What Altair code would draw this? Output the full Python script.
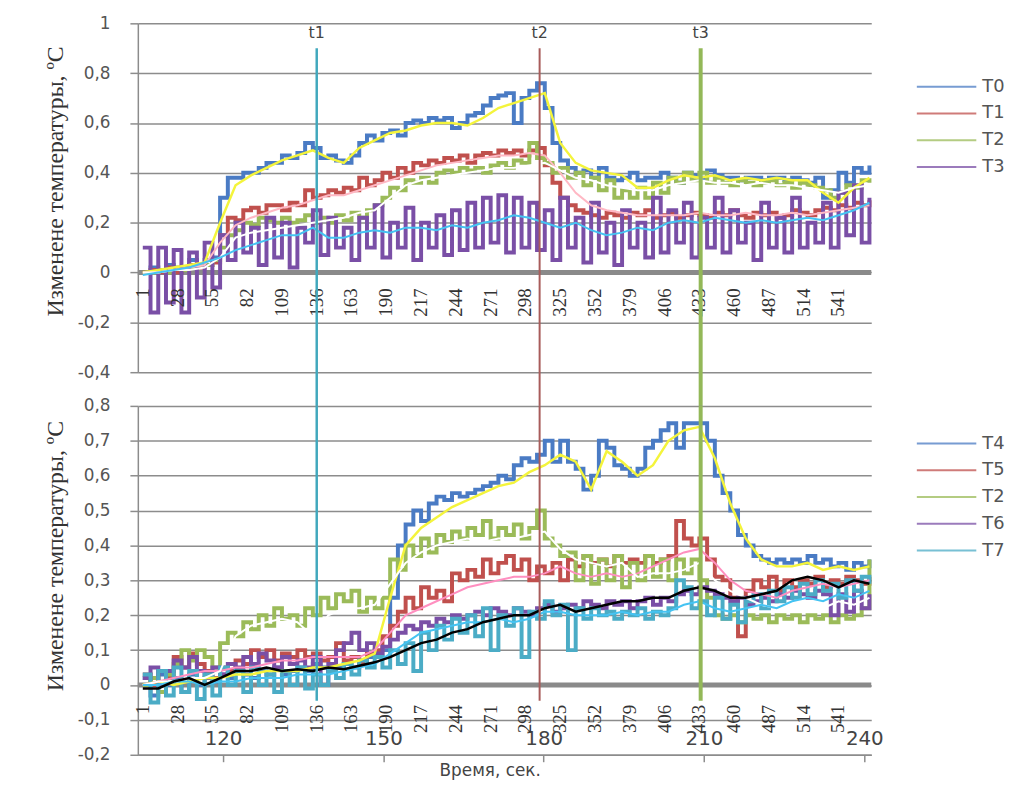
import altair as alt
import pandas as pd

# ---------------- data ----------------
RAW_STEP = 6      # samples between raw readings kept
SM_STEP = 12      # samples between smoothed readings kept
S_DOMAIN = [-2.85, 566.4]     # sample-index range of the plot area
T_DOMAIN = [104.05, 241.3]    # time range (s) of the plot area

idx_labels = [1, 28, 55, 82, 109, 136, 163, 190, 217, 244, 271, 298, 325,
              352, 379, 406, 433, 460, 487, 514, 541]
time_ticks = [120, 150, 180, 210, 240]
top_ticks = [-0.4, -0.2, 0, 0.2, 0.4, 0.6, 0.8, 1]
bot_ticks = [-0.2, -0.1, 0, 0.1, 0.2, 0.3, 0.4, 0.5, 0.6, 0.7, 0.8]

t_names = ["t1", "t2", "t3"]
t_pos = [136, 309, 434]
t_colors = ["#41a8bd", "#a85c5a", "#93b858"]
t_widths = [2.5, 2, 4]

# top panel raw series
T0 = [0.0, 0.02, 0.0, 0.03, 0.0, 0.02, 0.05, 0.03, 0.05, 0.06,
      0.3, 0.38, 0.38, 0.40, 0.40, 0.42, 0.44, 0.44, 0.47, 0.46,
      0.48, 0.52, 0.50, 0.46, 0.47, 0.45, 0.44, 0.47, 0.52, 0.55,
      0.53, 0.56, 0.57, 0.55, 0.60, 0.61, 0.60, 0.62, 0.61, 0.62,
      0.58, 0.60, 0.63, 0.64, 0.67, 0.70, 0.71, 0.72, 0.60, 0.70,
      0.73, 0.76, 0.66, 0.52, 0.45, 0.42, 0.40, 0.41, 0.38, 0.42,
      0.38, 0.37, 0.38, 0.40, 0.37, 0.38, 0.38, 0.40, 0.38, 0.36,
      0.40, 0.39, 0.38, 0.41, 0.39, 0.38, 0.38, 0.37, 0.38, 0.38,
      0.37, 0.38, 0.38, 0.37, 0.38, 0.37, 0.36, 0.38, 0.30, 0.33,
      0.40, 0.36, 0.42, 0.40, 0.43]
T1 = [0.0, 0.01, 0.0, 0.02, 0.0, 0.01, 0.03, 0.02, 0.03, 0.04,
      0.15, 0.22, 0.21, 0.25, 0.26, 0.24, 0.27, 0.27, 0.25, 0.28,
      0.27, 0.33, 0.30, 0.31, 0.33, 0.32, 0.34, 0.33, 0.38, 0.35,
      0.37, 0.40, 0.38, 0.42, 0.40, 0.44, 0.43, 0.45, 0.44, 0.46,
      0.45, 0.47, 0.44, 0.47, 0.48, 0.47, 0.49, 0.48, 0.49, 0.47,
      0.49, 0.50, 0.43, 0.36, 0.30, 0.27, 0.25, 0.24, 0.23, 0.22,
      0.24, 0.23, 0.22, 0.24, 0.23, 0.25, 0.22, 0.23, 0.24, 0.22,
      0.23, 0.24, 0.23, 0.22, 0.24, 0.23, 0.25, 0.23, 0.22, 0.24,
      0.23, 0.24, 0.22, 0.23, 0.25, 0.24, 0.23, 0.25, 0.26, 0.25,
      0.27, 0.26, 0.28, 0.27, 0.29]
T2a = [0.0, 0.0, 0.01, 0.0, 0.02, 0.01, 0.02, 0.03, 0.03, 0.05,
       0.10, 0.15, 0.17, 0.20, 0.19, 0.22, 0.21, 0.20, 0.22, 0.20,
       0.21, 0.23, 0.20, 0.22, 0.20, 0.23, 0.21, 0.24, 0.22, 0.25,
       0.27, 0.30, 0.34, 0.33, 0.37, 0.36, 0.38, 0.36, 0.40, 0.41,
       0.40, 0.42, 0.41, 0.42, 0.40, 0.43, 0.44, 0.42, 0.45, 0.44,
       0.52, 0.46, 0.44, 0.40, 0.42, 0.38, 0.40, 0.35, 0.38, 0.33,
       0.37, 0.30, 0.33, 0.30, 0.34, 0.30, 0.36, 0.32, 0.38, 0.36,
       0.40, 0.37, 0.40, 0.36, 0.38, 0.36, 0.35, 0.37, 0.36, 0.35,
       0.36, 0.37, 0.35, 0.36, 0.34, 0.36, 0.35, 0.34, 0.33, 0.30,
       0.32, 0.35, 0.34, 0.37, 0.36]
T3 = [0.10, -0.16, 0.10, -0.12, 0.09, -0.16, 0.08, -0.10, 0.12, -0.06,
      0.15, 0.05, 0.20, 0.08, 0.18, 0.03, 0.22, 0.06, 0.20, 0.02,
      0.18, 0.12, 0.25, 0.07, 0.22, 0.10, 0.18, 0.05, 0.22, 0.10,
      0.27, 0.06, 0.20, 0.10, 0.26, 0.05, 0.20, 0.10, 0.23, 0.07,
      0.25, 0.09, 0.28, 0.10, 0.30, 0.12, 0.31, 0.08, 0.30, 0.10,
      0.28, 0.09, 0.25, 0.05, 0.30, 0.10, 0.22, 0.04, 0.28, 0.08,
      0.20, 0.03, 0.25, 0.10, 0.20, 0.06, 0.30, 0.08, 0.25, 0.12,
      0.28, 0.06, 0.22, 0.10, 0.30, 0.08, 0.25, 0.12, 0.20, 0.05,
      0.28, 0.10, 0.22, 0.08, 0.30, 0.10, 0.20, 0.12, 0.28, 0.10,
      0.32, 0.15, 0.35, 0.12, 0.30]

# top panel smoothed series
S0 = [0.0, 0.01, 0.02, 0.03, 0.04, 0.2, 0.35, 0.39, 0.42, 0.45,
      0.47, 0.49, 0.46, 0.44, 0.50, 0.53, 0.56, 0.57, 0.59, 0.60,
      0.60, 0.59, 0.62, 0.66, 0.68, 0.70, 0.72, 0.52, 0.44, 0.41,
      0.40, 0.39, 0.34, 0.34, 0.37, 0.39, 0.38, 0.39, 0.37, 0.38,
      0.37, 0.38, 0.37, 0.37, 0.32, 0.28, 0.34, 0.38]
S1 = [0.0, 0.0, 0.01, 0.02, 0.03, 0.12, 0.19, 0.22, 0.24, 0.26,
      0.27, 0.29, 0.31, 0.31, 0.33, 0.35, 0.37, 0.39, 0.41, 0.43,
      0.44, 0.45, 0.46, 0.47, 0.47, 0.48, 0.47, 0.40, 0.32, 0.27,
      0.25, 0.24, 0.23, 0.23, 0.23, 0.23, 0.24, 0.23, 0.23, 0.24,
      0.23, 0.23, 0.24, 0.23, 0.24, 0.25, 0.26, 0.27]
S2 = [0.0, 0.0, 0.01, 0.01, 0.02, 0.06, 0.14, 0.16, 0.17, 0.18,
      0.19, 0.20, 0.21, 0.22, 0.24, 0.25, 0.30, 0.35, 0.37, 0.38,
      0.39, 0.40, 0.41, 0.42, 0.42, 0.43, 0.44, 0.41, 0.38, 0.37,
      0.35, 0.34, 0.33, 0.33, 0.35, 0.36, 0.37, 0.36, 0.36, 0.35,
      0.36, 0.35, 0.35, 0.34, 0.33, 0.32, 0.34, 0.35]
S3 = [-0.01, 0.0, 0.01, 0.02, 0.04, 0.06, 0.09, 0.11, 0.13, 0.15,
      0.15, 0.18, 0.14, 0.14, 0.16, 0.17, 0.16, 0.18, 0.18, 0.17,
      0.19, 0.18, 0.20, 0.21, 0.23, 0.22, 0.20, 0.18, 0.20, 0.17,
      0.15, 0.16, 0.18, 0.17, 0.20, 0.21, 0.20, 0.22, 0.21, 0.20,
      0.21, 0.20, 0.21, 0.22, 0.21, 0.23, 0.25, 0.28]

# bottom panel raw series
T4 = [0.02, -0.03, 0.03, 0.00, 0.02, -0.02, 0.03, 0.00, 0.02, 0.01,
      0.03, 0.02, 0.04, 0.03, 0.02, 0.04, 0.03, 0.05, 0.03, 0.04,
      0.05, 0.04, 0.06, 0.05, 0.04, 0.05, 0.06, 0.05, 0.07, 0.08,
      0.08, 0.10, 0.25, 0.40, 0.46, 0.50, 0.47, 0.52, 0.54, 0.53,
      0.55, 0.54, 0.55, 0.56, 0.57, 0.58, 0.60, 0.59, 0.63, 0.65,
      0.64, 0.66, 0.70, 0.64, 0.70, 0.64, 0.62, 0.56, 0.60, 0.70,
      0.68, 0.63, 0.62, 0.60, 0.62, 0.68, 0.70, 0.73, 0.75, 0.68,
      0.75, 0.75, 0.75, 0.70, 0.60, 0.55, 0.50, 0.43, 0.40, 0.37,
      0.36, 0.35, 0.36, 0.35, 0.36, 0.35, 0.37, 0.35, 0.36, 0.34,
      0.35, 0.33, 0.35, 0.34, 0.36]
T5 = [0.03, 0.00, 0.04, 0.02, 0.08, 0.05, 0.09, 0.06, 0.04, 0.02,
      0.05, 0.04, 0.07, 0.06, 0.10, 0.08, 0.10, 0.07, 0.09, 0.08,
      0.10, 0.08, 0.09, 0.07, 0.08, 0.12, 0.07, 0.08, 0.06, 0.09,
      0.10, 0.14, 0.17, 0.21, 0.25, 0.22, 0.28, 0.25, 0.27, 0.24,
      0.32, 0.30, 0.33, 0.31, 0.36, 0.32, 0.35, 0.37, 0.33, 0.36,
      0.30, 0.34, 0.32, 0.35, 0.30, 0.36, 0.34, 0.37, 0.35, 0.36,
      0.34, 0.37, 0.35, 0.36, 0.35, 0.37, 0.35, 0.36, 0.37, 0.47,
      0.42, 0.40, 0.42, 0.36, 0.31, 0.30, 0.25, 0.14, 0.27, 0.30,
      0.28, 0.31, 0.27, 0.30, 0.28, 0.30, 0.29, 0.31, 0.28, 0.30,
      0.29, 0.31, 0.30, 0.29, 0.31]
T2b = [0.00, 0.02, -0.02, 0.03, 0.06, 0.10, 0.07, 0.10, 0.08, 0.05,
       0.12, 0.15, 0.14, 0.18, 0.16, 0.20, 0.17, 0.22, 0.19, 0.20,
       0.17, 0.22, 0.20, 0.25, 0.22, 0.26, 0.24, 0.27, 0.21, 0.25,
       0.22, 0.25, 0.36, 0.33, 0.40, 0.37, 0.42, 0.38, 0.43, 0.41,
       0.44, 0.42, 0.45, 0.43, 0.47, 0.42, 0.45, 0.43, 0.46, 0.42,
       0.45, 0.50, 0.42, 0.40, 0.37, 0.38, 0.30, 0.37, 0.29, 0.36,
       0.30, 0.37, 0.28, 0.35, 0.30, 0.37, 0.31, 0.36, 0.30, 0.36,
       0.32, 0.36, 0.30, 0.25, 0.20, 0.19, 0.20, 0.18, 0.20, 0.19,
       0.20, 0.18, 0.20, 0.19, 0.20, 0.18, 0.20, 0.19, 0.20, 0.18,
       0.20, 0.19, 0.20, 0.22, 0.36]
T6 = [0.02, 0.05, 0.00, 0.04, 0.07, 0.05, 0.08, 0.04, 0.02, 0.05,
      0.03, 0.06, 0.05, 0.08, 0.06, 0.09, 0.07, 0.05, 0.08, 0.06,
      0.07, 0.05, 0.08, 0.00, 0.06, 0.10, 0.12, 0.15, 0.10, 0.12,
      0.09, 0.11, 0.13, 0.15, 0.17, 0.16, 0.18, 0.17, 0.19, 0.18,
      0.20, 0.19, 0.20, 0.21, 0.20, 0.22, 0.21, 0.20, 0.22, 0.21,
      0.20, 0.22, 0.23, 0.21, 0.22, 0.23, 0.22, 0.24, 0.23, 0.22,
      0.24, 0.23, 0.24, 0.22, 0.24, 0.25, 0.23, 0.25, 0.24, 0.26,
      0.27, 0.26, 0.28, 0.27, 0.26, 0.25, 0.24, 0.25, 0.23, 0.24,
      0.25, 0.24, 0.26, 0.25, 0.27, 0.26, 0.25, 0.27, 0.26, 0.20,
      0.26, 0.21, 0.27, 0.22, 0.26]
T7 = [0.03, -0.05, 0.04, -0.03, 0.05, -0.02, 0.04, -0.04, 0.03, -0.03,
      0.05, 0.00, 0.04, -0.02, 0.05, 0.00, 0.03, -0.02, 0.04, 0.00,
      0.05, -0.01, 0.03, 0.00, 0.04, 0.02, 0.06, 0.03, 0.07, 0.05,
      0.08, 0.05, 0.10, 0.06, 0.12, 0.04, 0.15, 0.10, 0.17, 0.13,
      0.19, 0.15, 0.20, 0.14, 0.22, 0.10, 0.20, 0.17, 0.22, 0.08,
      0.21, 0.19, 0.24, 0.20, 0.23, 0.10, 0.22, 0.19, 0.22, 0.20,
      0.21, 0.19, 0.21, 0.20, 0.22, 0.19, 0.21, 0.20, 0.22, 0.30,
      0.28, 0.22, 0.24, 0.20, 0.25, 0.19, 0.23, 0.18, 0.24, 0.26,
      0.22, 0.27, 0.24, 0.28, 0.25, 0.29, 0.26, 0.30, 0.27, 0.29,
      0.25, 0.30, 0.27, 0.31, 0.29]

# bottom panel smoothed series
S4 = [0.0, 0.01, 0.0, 0.01, 0.02, 0.02, 0.03, 0.03, 0.04, 0.04,
      0.04, 0.05, 0.05, 0.06, 0.07, 0.09, 0.25, 0.40, 0.45, 0.48,
      0.51, 0.53, 0.55, 0.57, 0.58, 0.61, 0.63, 0.66, 0.64, 0.56,
      0.67, 0.64, 0.60, 0.63, 0.70, 0.73, 0.74, 0.65, 0.52, 0.42,
      0.36, 0.34, 0.34, 0.35, 0.33, 0.34, 0.33, 0.34]
S5 = [0.0, 0.01, 0.02, 0.03, 0.04, 0.04, 0.05, 0.05, 0.06, 0.07,
      0.07, 0.08, 0.08, 0.08, 0.08, 0.10, 0.15, 0.20, 0.22, 0.24,
      0.26, 0.28, 0.29, 0.30, 0.31, 0.31, 0.32, 0.34, 0.32, 0.31,
      0.32, 0.31, 0.32, 0.34, 0.36, 0.38, 0.39, 0.35, 0.30, 0.27,
      0.26, 0.25, 0.27, 0.28, 0.29, 0.28, 0.29, 0.30]
S2b = [0.0, 0.01, 0.01, 0.02, 0.02, 0.04, 0.14, 0.17, 0.18, 0.19,
       0.18, 0.14, 0.20, 0.22, 0.22, 0.23, 0.29, 0.35, 0.38, 0.40,
       0.41, 0.42, 0.41, 0.42, 0.42, 0.43, 0.44, 0.39, 0.36, 0.35,
       0.34, 0.35, 0.31, 0.32, 0.32, 0.33, 0.35, 0.30, 0.27, 0.25,
       0.23, 0.22, 0.22, 0.23, 0.22, 0.24, 0.23, 0.25]
S6 = [0.0, 0.0, 0.01, 0.01, 0.0, 0.01, 0.01, 0.02, 0.02, 0.02,
      0.03, 0.03, 0.03, 0.04, 0.05, 0.06, 0.09, 0.12, 0.15, 0.16,
      0.17, 0.18, 0.18, 0.19, 0.18, 0.19, 0.21, 0.21, 0.20, 0.20,
      0.20, 0.21, 0.20, 0.21, 0.21, 0.23, 0.24, 0.22, 0.21, 0.22,
      0.23, 0.22, 0.24, 0.25, 0.24, 0.26, 0.25, 0.27]
S7 = [-0.01, -0.01, 0.01, 0.02, 0.0, 0.02, 0.04, 0.04, 0.05, 0.04,
      0.045, 0.04, 0.05, 0.045, 0.055, 0.065, 0.08, 0.10, 0.12, 0.13,
      0.15, 0.16, 0.18, 0.19, 0.20, 0.20, 0.22, 0.23, 0.21, 0.22,
      0.23, 0.24, 0.24, 0.25, 0.25, 0.27, 0.28, 0.27, 0.25, 0.25,
      0.26, 0.27, 0.30, 0.31, 0.30, 0.28, 0.30, 0.29]

# ---------------- style ----------------
W, H, GAP = 740, 352, 34
GRAY = "#8c8c8c"
BLUE, RED, GREEN, PURPLE, CYAN = "#4a7bc4", "#c0504d", "#9bbb59", "#7a4fa6", "#4bacc6"
Y_TITLE = "Изменене температуры, ºС"
LABEL_EXPR = "replace(replace(format(datum.value, '.1~f'), '.', ','), '\u2212', '-')"


def xenc():
    return alt.X("s:Q", scale=alt.Scale(domain=S_DOMAIN, nice=False, zero=False), axis=None)


def yenc(field, dom, ticks, title_y):
    return alt.Y(f"{field}:Q", scale=alt.Scale(domain=dom, nice=False, zero=False),
                 axis=alt.Axis(values=ticks, title=Y_TITLE, labelExpr=LABEL_EXPR,
                               grid=True, gridColor=GRAY, gridWidth=1.5,
                               domainColor=GRAY, domainWidth=1.5,
                               tickColor=GRAY, tickWidth=1.5, tickSize=8,
                               labelFont="DejaVu Sans", labelFontSize=17, labelColor="#555",
                               labelPadding=20, titleFont="Liberation Serif", titleFontSize=24,
                               titleFontWeight="normal", titleColor="#333", titlePadding=10,
                               titleY=title_y))


def panel(raws, names, colors, smooths, dom, ticks, title_y, legend_y, lab_off, top):
    Y = lambda f: yenc(f, dom, ticks, title_y)
    legend = alt.Legend(title=None, orient="none", legendX=800, legendY=legend_y,
                        symbolType="M-2,0L2,0", symbolSize=900, symbolStrokeWidth=2,
                        symbolOpacity=0.75,
                        labelFont="DejaVu Sans", labelFontSize=18, labelColor="#555",
                        labelOffset=20, rowPadding=2, padding=0)
    layers = [alt.Chart(pd.DataFrame({"v": [0]})).mark_rule(color="#8a8a8a", strokeWidth=5)
              .encode(y=Y("v"))]
    for name, vals in raws:
        df = pd.DataFrame({"s": [1 + RAW_STEP * i for i in range(len(vals))],
                           "v": vals, "series": name})
        layers.append(alt.Chart(df).mark_line(interpolate="step-after", strokeWidth=4).encode(
            x=xenc(), y=Y("v"),
            color=alt.Color("series:N", scale=alt.Scale(domain=names, range=colors), legend=legend)))
    for vals, col, wd in smooths:
        df = pd.DataFrame({"s": [1 + SM_STEP * j for j in range(len(vals))], "v": vals})
        layers.append(alt.Chart(df).mark_line(color=col, strokeWidth=wd).encode(x=xenc(), y=Y("v")))
    lab_df = pd.DataFrame({"s": idx_labels, "lab": [str(v) for v in idx_labels], "v": 0})
    layers.append(alt.Chart(lab_df).mark_text(angle=270, align="right", baseline="middle",
                                              font="Liberation Serif", fontSize=19, color="#333",
                                              yOffset=lab_off)
                  .encode(x=xenc(), y=Y("v"), text="lab:N"))
    for k in range(3):
        if top:
            df = pd.DataFrame({"s": [t_pos[k]], "v": [0.9]})
            layers.append(alt.Chart(df).mark_rule(color=t_colors[k], strokeWidth=t_widths[k])
                          .encode(x=xenc(), y=Y("v"), y2=alt.value(H + GAP)))
            tdf = pd.DataFrame({"s": [t_pos[k]], "name": [t_names[k]]})
            layers.append(alt.Chart(tdf).mark_text(font="DejaVu Sans", fontSize=16, color="#444",
                                                   baseline="middle")
                          .encode(x=xenc(), y=alt.value(10), text="name:N"))
        else:
            df = pd.DataFrame({"s": [t_pos[k]], "v": [0.8], "v2": [-0.045]})
            layers.append(alt.Chart(df).mark_rule(color=t_colors[k], strokeWidth=t_widths[k])
                          .encode(x=xenc(), y=Y("v"), y2="v2:Q"))
    if not top:
        time_df = pd.DataFrame({"t": time_ticks})
        layers.append(alt.Chart(time_df).mark_point(opacity=0).encode(
            x=alt.X("t:Q", scale=alt.Scale(domain=T_DOMAIN, nice=False, zero=False),
                    axis=alt.Axis(values=time_ticks, orient="bottom", title="Время, сек.",
                                  format="d", grid=False, domainColor=GRAY, domainWidth=1.5,
                                  tickColor=GRAY, tickWidth=1.5, tickSize=7,
                                  labelFont="DejaVu Sans", labelFontSize=20, labelColor="#444",
                                  labelBaseline="bottom", labelPadding=-13,
                                  titleFont="DejaVu Sans", titleFontSize=17,
                                  titleFontWeight="normal", titleColor="#444",
                                  titleY=8, titleX=355, titleBaseline="top")),
            y=alt.value(0)))
    ch = alt.layer(*layers)
    if not top:
        ch = ch.resolve_scale(x="independent")
    return ch.properties(width=W, height=H)


top = panel([("T0", T0), ("T1", T1), ("T2", T2a), ("T3", T3)],
            ["T0", "T1", "T2", "T3"], [BLUE, RED, GREEN, PURPLE],
            [(S0, "#f4f43c", 2.5), (S1, "#ffb8c4", 2), (S2, "#ffffff", 2), (S3, "#45c3f2", 2)],
            [-0.4, 1], top_ticks, 159, 48, 16, True)

bottom = panel([("T4", T4), ("T5", T5), ("T2", T2b), ("T6", T6), ("T7", T7)],
               ["T4", "T5", "T2", "T6", "T7"], [BLUE, RED, GREEN, PURPLE, CYAN],
               [(S4, "#f4f43c", 2.5), (S5, "#ff8fc0", 2), (S2b, "#ffffff", 2),
                (S6, "#45c3f2", 2), (S7, "#000000", 2.5)],
               [-0.2, 0.8], bot_ticks, 151, 22, 20, False)

chart = (alt.vconcat(top, bottom, spacing=GAP, bounds="flush")
         .resolve_scale(color="independent")
         .properties(padding={"left": 35, "top": 3, "right": 5, "bottom": 0}, background="white")
         .configure_view(stroke=None))

chart.save("out.html", embed_options={"renderer": "svg", "actions": False})
